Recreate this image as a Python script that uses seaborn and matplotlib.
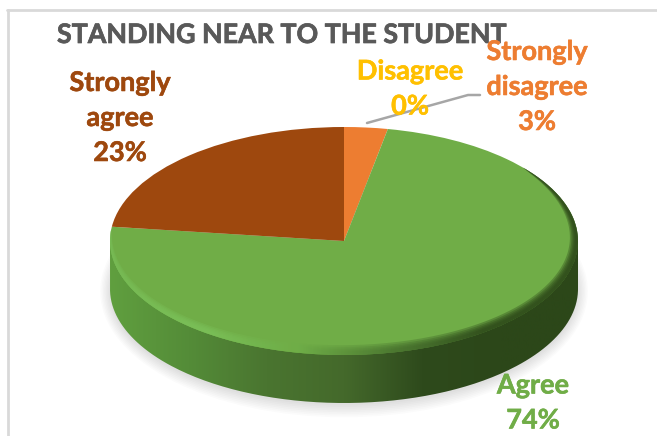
import numpy as np
import seaborn as sns
import matplotlib.pyplot as plt
import matplotlib.patheffects as pe
from matplotlib.colors import ListedColormap
from matplotlib.lines import Line2D
from matplotlib.patches import Ellipse, PathPatch
from matplotlib.path import Path

# dados do grafico
categorias = ['Strongly\ndisagree', 'Disagree', 'Agree', 'Strongly\nagree']
valores = [3, 0, 74, 23]
cores = ['#ED7D31', '#FFC000', '#70AD47', '#9E480E']
titulo = 'STANDING NEAR TO THE STUDENT'

sns.set_theme(style='white')
plt.rcParams['font.family'] = ['Lato', 'DejaVu Sans']

W, H = 657, 436
CX, CY, RX, RY = 344, 241, 234, 114
DEPTH = 48 / RY


def fx(x):
    return x / W


def fy(y):
    return 1 - y / H


fig = plt.figure(figsize=(W / 100, H / 100), dpi=100, facecolor='white')
ax = fig.add_axes([0, 0, 1, 1])
xlim = ((0 - CX) / RX, (W - CX) / RX)
ylim = ((CY - H) / RY, CY / RY)

# moldura
fig.add_artist(Line2D([fx(8), fx(8)], [0, fy(10)], color='#d9d9d9', lw=2))
fig.add_artist(Line2D([fx(7), 1], [fy(10), fy(10)], color='#d9d9d9', lw=2))

# sombra suave abaixo do disco
for k in range(8):
    ax.add_patch(Ellipse((0, -DEPTH - 0.02), 2.0 + 0.012 * k, 2.0 + 0.03 * k,
                         color='#808080', alpha=0.03, lw=0, zorder=1))

# lateral do disco com gradiente
lateral = sns.blend_palette(['#609F3F', '#548C38', '#4A7530', '#44692B',
                             '#2E4A1C', '#2C4719', '#2C4719'], 256)
gradiente = np.linspace(0, 1, 256).reshape(1, -1)
img = ax.imshow(gradiente, extent=(-1, 1, -2, 1), cmap=ListedColormap(lateral),
                aspect='auto', zorder=2)
t = np.linspace(np.pi, 2 * np.pi, 200)
borda = np.column_stack([np.cos(t), np.sin(t) - DEPTH])
contorno = np.vstack([[-1, 0], borda, [1, 0], [-1, 0]])
corpo = PathPatch(Path(contorno), transform=ax.transData, fc='none', ec='none')
ax.add_patch(corpo)
img.set_clip_path(corpo)

# pizza principal
ax.pie(valores, colors=cores, startangle=90, counterclock=False, radius=1,
       wedgeprops={'linewidth': 0, 'zorder': 3})

# chanfro na borda: varias camadas para suavizar o lado interno
chanfro = sns.blend_palette(['#78BC56', '#7CC25A', '#6FAE48', '#4A7530',
                             '#2C4719', '#2C4719'], 256)
ang = np.radians(np.linspace(174, 400, 300))
u = np.linspace(0, 1, 300)
for k, larg in enumerate([0.055, 0.045, 0.036, 0.028, 0.02]):
    w = larg * np.sin(np.pi * u) ** 0.7
    fora = np.column_stack([np.cos(ang), np.sin(ang)])
    dentro = np.column_stack([(1 - w) * np.cos(ang), (1 - 1.6 * w) * np.sin(ang)])
    anel = np.vstack([fora, dentro[::-1], fora[:1]])
    p = PathPatch(Path(anel), transform=ax.transData, fc='none', ec='none')
    ax.add_patch(p)
    im = ax.imshow(gradiente, extent=(-1, 1, -2, 1), cmap=ListedColormap(chanfro),
                   aspect='auto', zorder=4, alpha=0.35)
    im.set_clip_path(p)

ax.set_aspect('auto')
ax.set_xlim(xlim)
ax.set_ylim(ylim)
ax.axis('off')

# titulo e rotulos
grosso = [pe.withStroke(linewidth=0.5, foreground='#595959')]
fig.text(fx(57), fy(35), titulo, color='#595959', fontsize=19.3, fontweight='bold',
         va='center', ha='left', path_effects=grosso)

rotulos = [f'{c}\n{v}%' for c, v in zip(categorias, valores)]
pos_rotulos = [(537, 87), (410, 89), (533, 403), (120, 118)]
for rot, cor, (x, y) in zip(rotulos, cores, pos_rotulos):
    fig.text(fx(x), fy(y), rot, color=cor, fontsize=19.5, fontweight='bold',
             ha='center', va='center', linespacing=1.55, zorder=5,
             path_effects=[pe.withStroke(linewidth=0.4, foreground=cor)])

# linha guia
fig.add_artist(Line2D([fx(367), fx(468), fx(480)], [fy(123), fy(95), fy(95)],
                      color='#a6a6a6', lw=1.8))

fig.savefig('out.png', dpi=100)
